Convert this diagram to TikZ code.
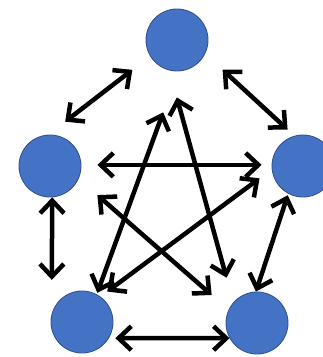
\documentclass[tikz,border=0pt]{standalone}
\usetikzlibrary{arrows.meta}
\definecolor{nodeblue}{HTML}{4472C4}
\definecolor{nodeline}{HTML}{2F528F}

\begin{document}
\begin{tikzpicture}[>={Straight Barb[length=9pt,width=17pt]},
    agent/.style={circle,fill=nodeblue,draw=nodeline,line width=.6pt,minimum size=1.55cm,inner sep=0pt},
    link/.style={<->,line width=3.2pt}]
    \useasboundingbox (0,0) rectangle (8.05,8.925);
    % five agents
    \node[agent] (t) at (4.425,7.925) {};
    \node[agent] (l) at (1.25,4.775) {};
    \node[agent] (r) at (7.575,4.775) {};
    \node[agent] (bl) at (2.05,.875) {};
    \node[agent] (br) at (6.425,.85) {};
    % outer ring
    \draw[link,shorten <=.53cm,shorten >=.56cm] (l.93) -- (t.211);
    \draw[link,shorten <=.59cm,shorten >=.23cm] (t.334) -- (r.106);
    \draw[link,shorten <=.04cm,shorten >=0cm] (r.242) -- (br.92);
    \draw[link,shorten <=.16cm,shorten >=0cm] (bl.329) -- (br.209);
    \draw[link,shorten <=0cm,shorten >=.85cm] (l.274) -- (bl.165);
    % inner star
    \draw[link,shorten <=.4cm,shorten >=.25cm] (l.2) -- (r.178);
    \draw[link,shorten <=1.09cm,shorten >=.04cm] (t.272) -- (bl.62);
    \draw[link,shorten <=.7cm,shorten >=.64cm] (t.256) -- (br.139);
    \draw[link,shorten <=.62cm,shorten >=.56cm] (l.336) -- (br.155);
    \draw[link,shorten <=.38cm,shorten >=.21cm] (r.186) -- (bl.54);
\end{tikzpicture}
\end{document}
